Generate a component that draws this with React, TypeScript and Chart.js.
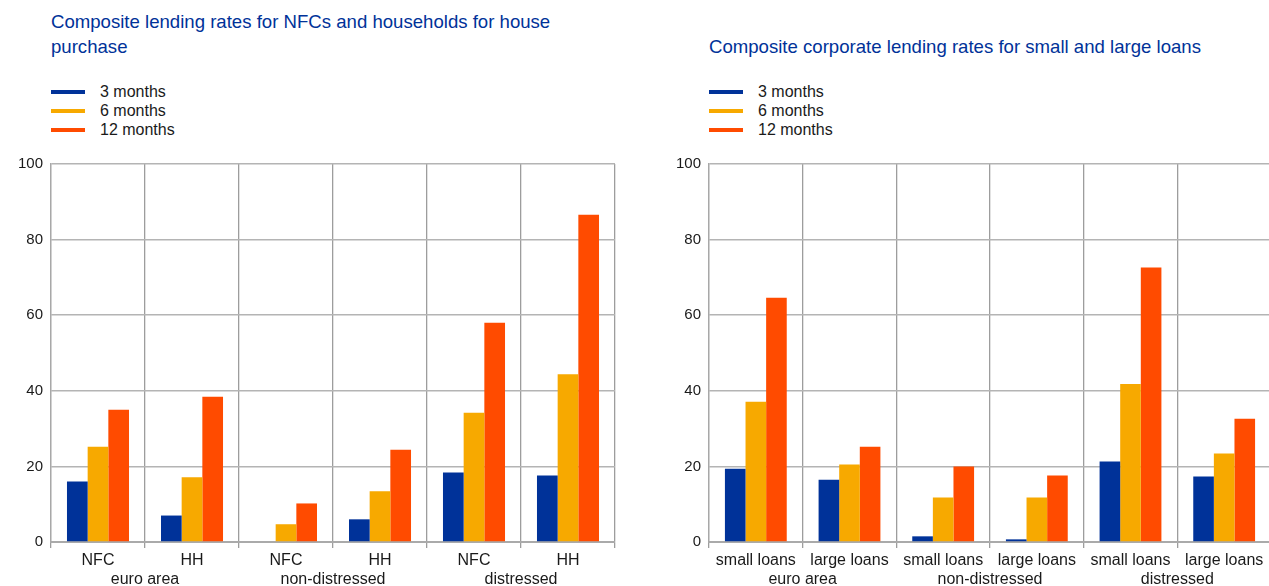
import React, { useEffect, useRef } from "react";
import { Chart, registerables } from "chart.js";

Chart.register(...registerables);

// ---------------- data ----------------
const seriesNames = ["3 months", "6 months", "12 months"];
const seriesColors = ["#003299", "#f7a900", "#ff4b00"];

const leftTitle = "Composite lending rates for NFCs and households for house purchase";
const leftCategories = ["NFC", "HH", "NFC", "HH", "NFC", "HH"];
const leftGroups = ["euro area", "non-distressed", "distressed"];
const left3m = [16.0, 7.0, 0.2, 6.0, 18.4, 17.6];
const left6m = [25.2, 17.1, 4.7, 13.4, 34.2, 44.4];
const left12m = [35.0, 38.4, 10.2, 24.4, 58.0, 86.6];

const rightTitle = "Composite corporate lending rates for small and large loans";
const rightCategories = ["small loans", "large loans", "small loans", "large loans", "small loans", "large loans"];
const rightGroups = ["euro area", "non-distressed", "distressed"];
const right3m = [19.4, 16.5, 1.5, 0.7, 21.3, 17.3];
const right6m = [37.1, 20.5, 11.8, 11.8, 41.8, 23.4];
const right12m = [64.6, 25.2, 20.0, 17.6, 72.6, 32.6];

const yMin = 0;
const yMax = 100;
const yStep = 20;

const FONT = "'Liberation Sans', Arial, Helvetica, sans-serif";
const CANVAS_TOP = 147;
const CANVAS_H = 439;

type PanelProps = {
  left: number;
  width: number;
  axisWidth: number;
  padRight: number;
  categories: string[];
  groups: string[];
  values: number[][];
};

function BarPanel(props: PanelProps) {
  const ref = useRef<HTMLCanvasElement | null>(null);
  useEffect(() => {
    if (!ref.current) return;
    Chart.defaults.font.family = FONT;
    const chart = new Chart(ref.current, {
      type: "bar",
      data: {
        labels: props.categories,
        datasets: seriesNames.map((name, i) => ({
          label: name,
          data: props.values[i],
          backgroundColor: seriesColors[i],
          borderWidth: 0,
          categoryPercentage: 0.66,
          barPercentage: 1.0,
        })),
      },
      options: {
        responsive: false,
        animation: false,
        layout: { padding: { top: 8, left: 0, right: props.padRight, bottom: 0 } },
        plugins: { legend: { display: false }, title: { display: false }, tooltip: { enabled: false } },
        scales: {
          x: {
            type: "category",
            position: "bottom",
            weight: 0,
            offset: true,
            grid: { offset: true, color: "#9d9d9d", lineWidth: 1.3, drawTicks: true, tickLength: 6 },
            border: { display: true, color: "#aaaaaa", width: 2 },
            ticks: { color: "#1a1a1a", font: { size: 16, family: FONT }, padding: 3, maxRotation: 0, autoSkip: false },
            afterFit: (s: any) => { s.height = 27; },
          },
          x2: {
            type: "category",
            position: "bottom",
            weight: 1,
            offset: true,
            labels: props.groups,
            grid: { display: false, drawTicks: false },
            border: { display: false },
            ticks: { color: "#1a1a1a", font: { size: 16, family: FONT }, padding: 1, maxRotation: 0, autoSkip: false },
            afterFit: (s: any) => { s.height = 17; },
          },
          y: {
            min: yMin,
            max: yMax,
            ticks: { stepSize: yStep, color: "#1a1a1a", font: { size: 15, family: FONT }, padding: 8 },
            grid: { color: "#b4b4b4", lineWidth: 1.5, drawTicks: false },
            border: { display: true, color: "#a8a8a8", width: 1.3 },
            afterFit: (s: any) => { s.width = props.axisWidth; },
          },
        },
      },
    } as any);
    return () => chart.destroy();
  }, []);
  return (
    <div style={{ position: "absolute", left: props.left, top: CANVAS_TOP, width: props.width, height: CANVAS_H }}>
      <canvas ref={ref} width={props.width} height={CANVAS_H} style={{ width: props.width, height: CANVAS_H, display: "block" }} />
    </div>
  );
}

function Legend({ left, top }: { left: number; top: number }) {
  return (
    <>
      {seriesNames.map((n, i) => (
        <div key={n} style={{ position: "absolute", left, top: top + i * 19 - 10, height: 20, width: 200 }}>
          <div style={{ position: "absolute", left: 0, top: 8, width: 34, height: 4, background: seriesColors[i] }} />
          <div style={{ position: "absolute", left: 49, top: 0, lineHeight: "20px", fontSize: 16, fontFamily: FONT, color: "#1a1a1a", whiteSpace: "nowrap" }}>{n}</div>
        </div>
      ))}
    </>
  );
}

export default function App() {
  return (
    <div style={{ position: "fixed", left: 0, top: 0, width: 1269, height: 586, overflow: "hidden", background: "#fff" }}>
      <div style={{ position: "absolute", left: 51, top: 9, width: 540, fontFamily: FONT, fontSize: 18.6, lineHeight: "25px", color: "#003299" }}>
        {leftTitle}
      </div>
      <div style={{ position: "absolute", left: 709, top: 34, width: 560, fontFamily: FONT, fontSize: 18.6, lineHeight: "25px", color: "#003299", whiteSpace: "nowrap" }}>
        {rightTitle}
      </div>
      <Legend left={51} top={92} />
      <Legend left={709} top={92} />
      <BarPanel left={0} width={640} axisWidth={51} padRight={25} categories={leftCategories} groups={leftGroups} values={[left3m, left6m, left12m]} />
      <BarPanel left={640} width={640} axisWidth={69} padRight={9} categories={rightCategories} groups={rightGroups} values={[right3m, right6m, right12m]} />
    </div>
  );
}
